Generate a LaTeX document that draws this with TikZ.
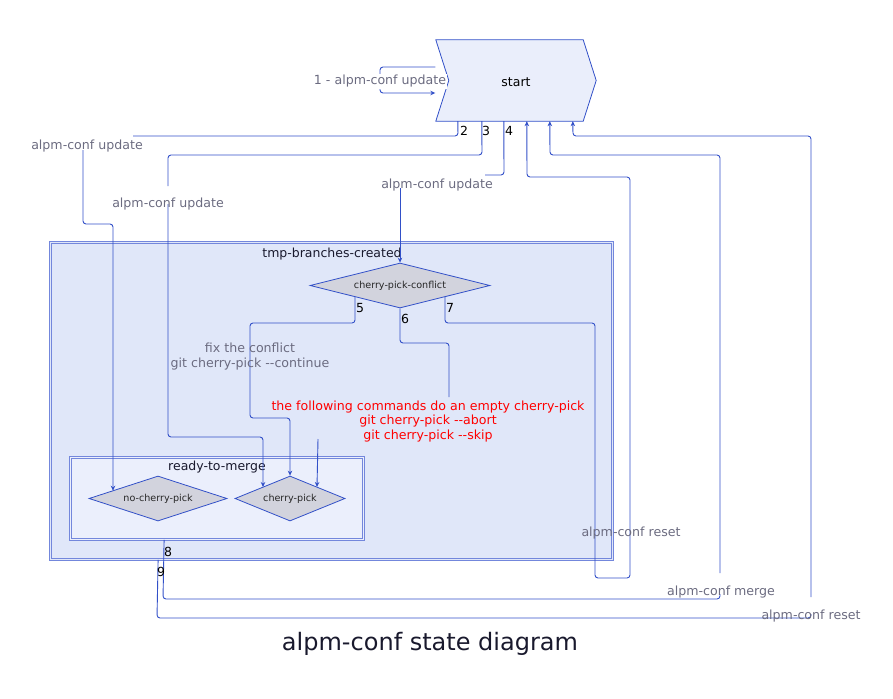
\documentclass[tikz,border=0pt]{standalone}
\usepackage{fontspec}
\setmainfont{DejaVu Sans}
\usetikzlibrary{shapes.geometric,arrows.meta,calc}
\definecolor{edgec}{RGB}{50,80,200}
\definecolor{clborder}{RGB}{115,135,220}
\definecolor{clfill}{RGB}{224,231,249}
\definecolor{clfillb}{RGB}{235,239,252}
\definecolor{startfill}{RGB}{234,238,251}
\definecolor{dfill}{RGB}{210,211,221}
\definecolor{lblc}{RGB}{107,107,128}
\definecolor{titlec}{RGB}{25,25,45}
\tikzset{
  edge/.style={draw=edgec, line width=0.9pt, rounded corners=3pt},
  arr/.style={edge, -{Stealth[length=5pt,width=4.5pt]}},
  lbl/.style={text=lblc, font=\fontsize{12.6}{14.5}\selectfont, inner sep=1pt, align=center, yshift=-1.5pt},
  num/.style={text=black, font=\fontsize{12.5}{14.5}\selectfont, inner sep=0pt, yshift=-1pt},
  dia/.style={diamond, draw=edgec, line width=0.8pt, fill=dfill, inner sep=0pt, font=\fontsize{9.6}{11}\selectfont, text=black!85},
  cluster/.style={draw=clborder, double distance=1.8pt, line width=0.8pt, inner sep=0pt},
  cltitle/.style={text=titlec, font=\fontsize{12.5}{14.5}\selectfont, inner sep=0pt, yshift=-1.5pt},
}
\begin{document}
\begin{tikzpicture}[x=1pt,y=-1pt]
\useasboundingbox (0,0) rectangle (893,698);
% clusters
\node[cluster, double=clfill, fill=clfill, minimum width=562pt, minimum height=317pt] (tmp) at (331.5,401) {};
\node[cltitle] (tmptitle) at (332,253) {tmp-branches-created};
\node[cluster, double=clfillb, fill=clfillb, minimum width=293pt, minimum height=82pt] (rtm) at (217,498.5) {};
\node[cltitle] (rtmtitle) at (217,466) {ready-to-merge};
% start node
\node[minimum width=160pt, minimum height=81pt, inner sep=0pt] (start) at (516,80.5) {};
\draw[draw=edgec, line width=0.8pt, fill=startfill]
  (start.north west) -- ($(start.north east)+(-13,0)$) -- (start.east)
  -- ($(start.south east)+(-13,0)$) -- (start.south west) -- ($(start.west)+(13,0)$) -- cycle;
\node[yshift=-1.5pt, font=\fontsize{12.5}{14.5}\selectfont] at (start) {start};
% diamonds
\node[dia, minimum width=180pt, minimum height=45pt, aspect=4] (cpc) at (400,285.5) {cherry-pick-conflict};
\node[dia, minimum width=138pt, minimum height=45pt, aspect=3.07] (ncp) at (158,498.5) {no-cherry-pick};
\node[dia, minimum width=110pt, minimum height=45pt, aspect=2.44] (cp) at (290,498.5) {cherry-pick};
% edge 1 (self loop)
\draw[arr] ($(start.west)+(-0.5,-13.5)$) -- (380,67) -- (380,93) -- ($(start.west)+(-0.5,12.5)$);
\node[lbl, fill=white] (l1) at (380,80) {1 - alpm-conf update};
% edge 2
\draw[edge] ($(start.south west)+(22,0)$) -- (458,136) -- (133,136);
\draw[arr] (83,150) -- (83,224) -- (113,224) -- ($(ncp)+(-45,-7.8)$);
\node[lbl] (l2) at (87,145) {alpm-conf update};
\node[num] at (464,130) {2};
% edge 3
\draw[edge] ($(start.south west)+(46,0)$) -- (482,155) -- (168,155) -- (168,186);
\draw[arr] (168,204) -- (168,437) -- (263,437) -- ($(cp)+(-27,-11.5)$);
\node[lbl] (l3) at (168,203) {alpm-conf update};
\node[num] at (486,130) {3};
% edge 4
\draw[edge] ($(start.south west)+(68,0)$) -- (504,175) -- (485,175);
\draw[arr] (400,188) -- (cpc.north);
\node[lbl] (l4) at (437,184) {alpm-conf update};
\node[num] at (509,130) {4};
% edge 5
\draw[arr] ($(cpc)+(-45,11.25)$) -- (355,323) -- (250,323) -- (250,418) -- (290,418) -- (cp.north);
\node[lbl] (l5) at (250,355) {fix the conflict\\git cherry-pick -{}-continue};
\node[num] at (360,307) {5};
% edge 6
\draw[edge] (cpc.south) -- (400,343) -- (449,343) -- (449,397);
\draw[arr] (318,439) -- ($(cp)+(27,-11.5)$);
\node[lbl, text=red] (l6) at (428,420) {the following commands do an empty cherry-pick\\git cherry-pick -{}-abort\\git cherry-pick -{}-skip};
\node[num] at (405,318) {6};
% edge 7
\draw[arr] ($(cpc)+(45,11.25)$) -- (445,323) -- (595,323) -- (595,578) -- (630,578) -- (630,177) -- (527,177) -- ($(start.south west)+(91,0)$);
\node[lbl] (l7) at (631,532) {alpm-conf reset};
\node[num] at (450,307) {7};
% edge 8
\draw[edge] ($(rtm.south west)+(94,0)$) -- (163,599) -- (720,599) -- (720,594);
\draw[arr] (720,573) -- (720,155) -- (550,155) -- ($(start.south west)+(114,0)$);
\node[lbl] (l8) at (721,591) {alpm-conf merge};
\node[num] at (168,551) {8};
% edge 9
\draw[edge] ($(tmp.south west)+(108,0)$) -- (157,618) -- (811,618) -- (811,614);
\draw[arr] (811,597) -- (811,136) -- (573,136) -- ($(start.south west)+(137,0)$);
\node[lbl] (l9) at (811,615) {alpm-conf reset};
\node[num] at (161,571) {9};
% title
\node[text=titlec, font=\fontsize{24}{28}\selectfont, yshift=-2pt] (title) at (430,642) {alpm-conf state diagram};
\end{tikzpicture}
\end{document}
